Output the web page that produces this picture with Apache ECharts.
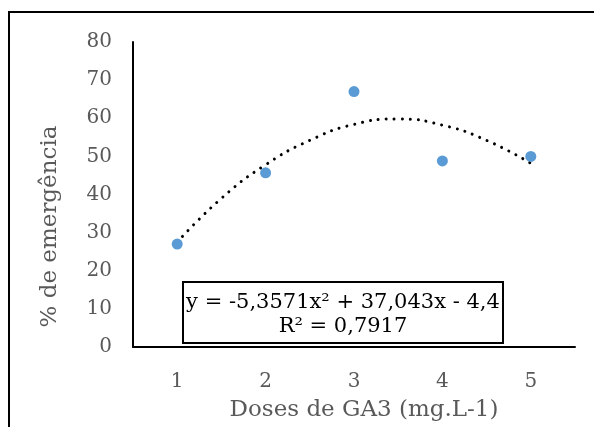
<!DOCTYPE html>
<html><head><meta charset="utf-8">
<script src="https://cdn.jsdelivr.net/npm/echarts@6/dist/echarts.min.js"></script>
<style>html,body{margin:0;padding:0;background:#fff}#c{width:594px;height:427px}</style>
</head><body><div id="c"></div>
<script>
var doses = [1, 2, 3, 4, 5];
var emergencia = [27, 45.7, 67, 48.8, 50];
var trendX = [1, 1.5, 2, 2.5, 3, 3.5, 4, 4.5, 5];
var trendY = [27.5, 39, 47.8, 54.2, 58.4, 59.8, 58.2, 54.2, 48.2];
var yTicks = [0, 10, 20, 30, 40, 50, 60, 70, 80];
var eqLine1 = 'y = -5,3571x\u00b2 + 37,043x - 4,4';
var eqLine2 = 'R\u00b2 = 0,7917';

var font = '"DejaVu Serif", "Liberation Serif", serif';
var chart = echarts.init(document.getElementById('c'));
chart.setOption({
  animation: false,
  grid: {left: 133, top: 42, right: 19, bottom: 76},
  xAxis: {
    type: 'value', min: 0.5, max: 5.5, interval: 0.5,
    name: 'Doses de GA3 (mg.L-1)', nameLocation: 'middle', nameGap: 52,
    nameTextStyle: {fontFamily: font, fontSize: 23, color: '#595959', padding: [0, 0, 0, 20]},
    axisLine: {lineStyle: {color: '#000', width: 2}},
    axisTick: {show: false}, splitLine: {show: false},
    axisLabel: {
      fontFamily: font, fontSize: 20, color: '#595959', margin: 25,
      formatter: function (v) { return doses.indexOf(v) >= 0 ? String(v) : ''; }
    }
  },
  yAxis: {
    type: 'value', min: yTicks[0], max: yTicks[yTicks.length - 1], interval: 10,
    name: '% de emergência', nameLocation: 'middle', nameGap: 71,
    nameTextStyle: {fontFamily: font, fontSize: 23, color: '#595959', padding: [0, 64, 0, 0]},
    axisLine: {show: true, lineStyle: {color: '#000', width: 2}},
    axisTick: {show: false}, splitLine: {show: false},
    axisLabel: {fontFamily: font, fontSize: 20, color: '#595959', margin: 21}
  },
  series: [
    {
      type: 'line', data: trendX.map(function (x, i) { return [x, trendY[i]]; }),
      smooth: true, symbol: 'none',
      lineStyle: {color: '#000', width: 3, type: [0.01, 8], cap: 'round'}, z: 2
    },
    {
      type: 'scatter', data: doses.map(function (x, i) { return [x, emergencia[i]]; }),
      symbolSize: 11, itemStyle: {color: '#5B9BD5', opacity: 1}, z: 3
    }
  ],
  graphic: [
    {type: 'rect', shape: {x: 9, y: 12, width: 620, height: 440}, style: {fill: 'none', stroke: '#000', lineWidth: 2}, silent: true},
    {type: 'rect', shape: {x: 183, y: 282, width: 320, height: 61}, style: {fill: '#fff', stroke: '#000', lineWidth: 2}, z: 10},
    {type: 'text', x: 343, y: 303, style: {text: eqLine1, fill: '#000', font: '21px ' + font, textAlign: 'center', textVerticalAlign: 'middle'}, z: 11},
    {type: 'text', x: 343, y: 327, style: {text: eqLine2, fill: '#000', font: '21px ' + font, textAlign: 'center', textVerticalAlign: 'middle'}, z: 11}
  ]
});
</script></body></html>
